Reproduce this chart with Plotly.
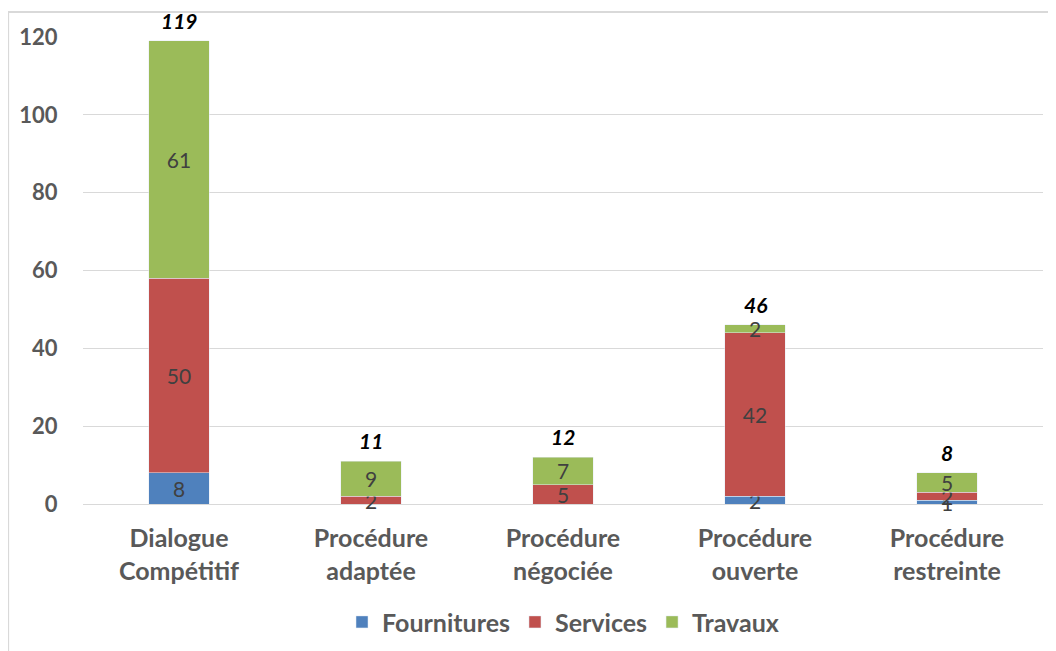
import plotly.graph_objects as go

categories = ["Dialogue<br>Compétitif", "Procédure<br>adaptée", "Procédure<br>négociée",
              "Procédure<br>ouverte", "Procédure<br>restreinte"]
fournitures = [8, 0, 0, 2, 1]
services = [50, 2, 5, 42, 2]
travaux = [61, 9, 7, 2, 5]
totals = [a + b + c for a, b, c in zip(fournitures, services, travaux)]
y_ticks = [0, 20, 40, 60, 80, 100, 120]

FONT = "Lato"
series = [("Fournitures", fournitures, "#4F81BD"),
          ("Services", services, "#C0504D"),
          ("Travaux", travaux, "#9BBB59")]

fig = go.Figure()
for name, vals, col in series:
    fig.add_trace(go.Bar(
        name=name, x=categories, y=vals, marker_color=col,
        text=[str(v) if v else "" for v in vals],
        textposition="inside", insidetextanchor="middle", constraintext="none",
        textangle=0,
        textfont=dict(family=FONT, size=21, color="#404040"),
        cliponaxis=False,
    ))

for c, t in zip(categories, totals):
    fig.add_annotation(x=c, y=t, text=f"<b><i>{t}</i></b>", showarrow=False,
                       yanchor="bottom", yshift=6,
                       font=dict(family=FONT, size=21, color="#000000"))

fig.add_shape(type="rect", xref="paper", yref="paper",
              x0=-0.078, x1=1.03, y0=-0.4, y1=1.0535,
              line=dict(color="#D9D9D9", width=2), layer="below")

fig.update_layout(
    barmode="stack", bargap=0.685,
    width=1048, height=643,
    margin=dict(l=75, r=13, t=29, b=147, autoexpand=False),
    plot_bgcolor="white", paper_bgcolor="white",
    font=dict(family=FONT, color="#595959"),
    legend=dict(orientation="h", x=0.5, xanchor="center", y=-0.253, yanchor="middle",
                font=dict(family=FONT, size=25, color="#595959", weight="bold"),
                traceorder="normal", itemwidth=30),
    showlegend=True,
)
fig.update_xaxes(
    tickfont=dict(family=FONT, size=25, color="#595959", weight="bold"),
    ticks="outside", ticklen=12, tickcolor="rgba(0,0,0,0)", showline=False,
    automargin=False,
)
fig.update_yaxes(
    range=[0, 120], tickvals=y_ticks, showgrid=True, gridcolor="#D9D9D9", gridwidth=1,
    zeroline=True, zerolinecolor="#D9D9D9", zerolinewidth=1,
    tickfont=dict(family=FONT, size=22, color="#595959", weight="bold"),
    ticks="outside", ticklen=20, tickcolor="rgba(0,0,0,0)", showline=False,
    automargin=False,
)
fig.write_html("out.html")
